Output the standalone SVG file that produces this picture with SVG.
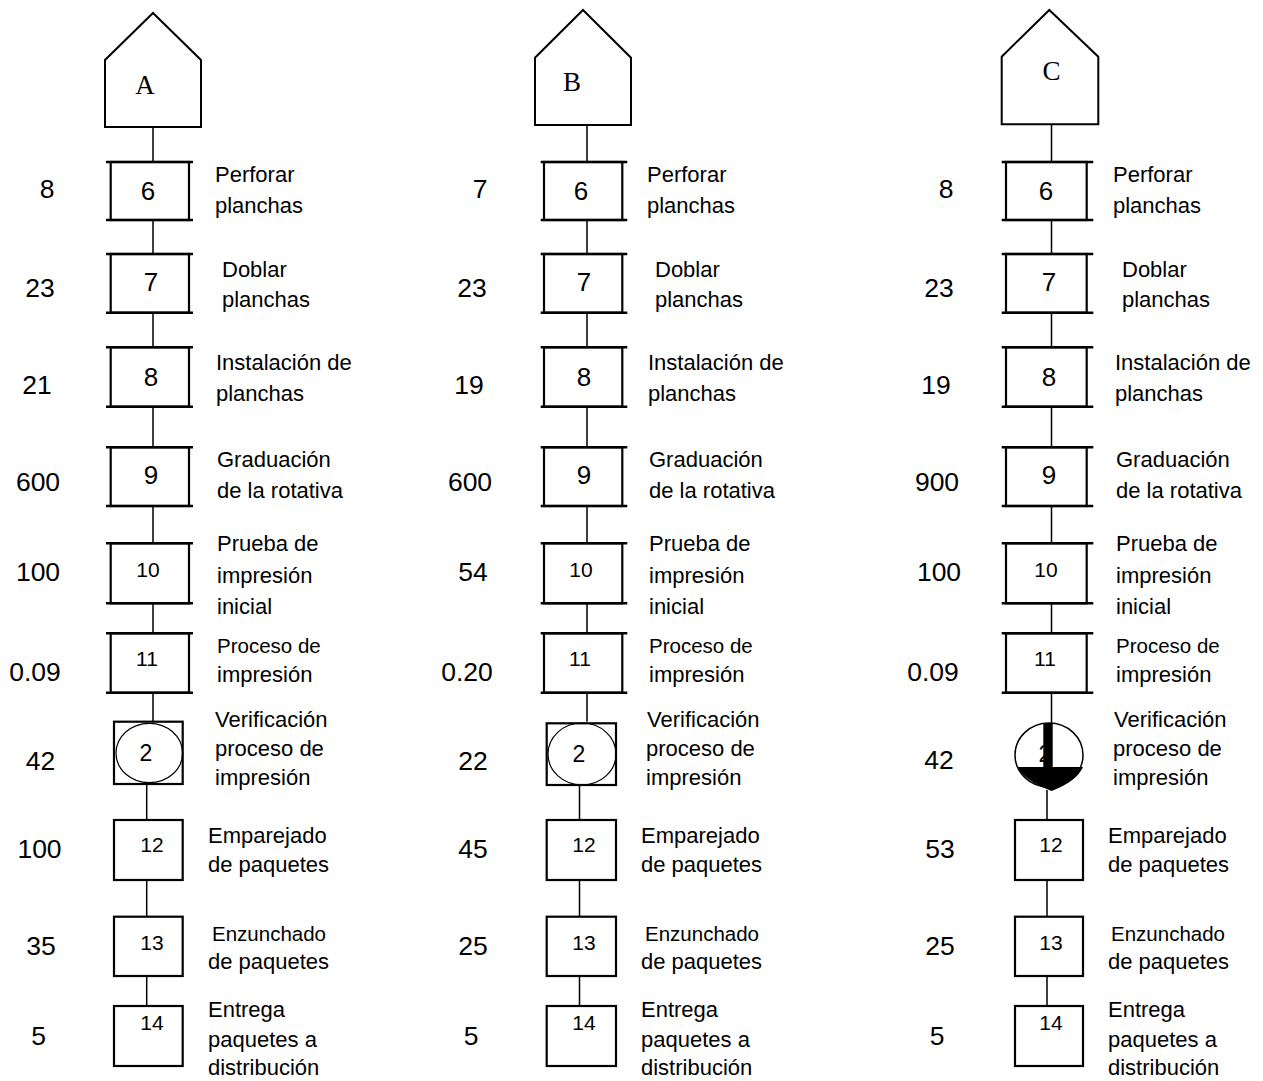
<svg xmlns="http://www.w3.org/2000/svg" width="1263" height="1081" viewBox="0 0 1263 1081">
<style>
.pent{fill:#fff;stroke:#000;stroke-width:2}
.box{fill:#fff;stroke:#000;stroke-width:2.2}
.bar{stroke:#000;stroke-width:2.6}
.conn{stroke:#000;stroke-width:1.5;fill:none}
.ell{fill:none;stroke:#000;stroke-width:1.2}
.letter{font-family:"Liberation Serif",serif;font-size:27px;text-anchor:middle}
.num{font-family:"Liberation Sans",Arial,sans-serif;font-size:26.5px;text-anchor:middle}
.bn{font-family:"Liberation Sans",Arial,sans-serif;font-size:26px;text-anchor:middle}
.bs{font-family:"Liberation Sans",Arial,sans-serif;font-size:21px;text-anchor:middle}
.lbl{font-family:"Liberation Sans",Arial,sans-serif;font-size:22px}
.lbs{font-family:"Liberation Sans",Arial,sans-serif;font-size:20.5px}
</style>
<rect width="1263" height="1081" fill="#fff"/>

<g id="connectors">
  <g transform="translate(0,0)">
    <path class="conn" d="M153,127V162M153,220V254M153,312.7V347.3M153,406.7V447.3M153,506V543.3M153,603.3V633.3M153,692.7V721.7M146.7,784V820M146.7,880V916.7M146.7,976V1006"/>
  </g>
  <g transform="translate(433,0)">
    <path class="conn" d="M154,125V162M154,220V254M154,312.7V347.3M154,406.7V447.3M154,506V543.3M154,603.3V633.3M154,692.7V721.7M146.5,784V820M146.5,880V916.7M146.5,976V1006"/>
  </g>
  <g transform="translate(897,0)">
    <path class="conn" d="M154.5,124.3V162M154.5,220V254M154.5,312.7V347.3M154.5,406.7V447.3M154.5,506V543.3M154.5,603.3V633.3M154.5,692.7V723M150,790V820M150,880V916.7M150,976V1006"/>
  </g>
</g>

<!-- Column A -->
<g id="colA">
  <g id="A-start"><polygon class="pent" points="153,13 201,60 201,127 105,127 105,60"/><text class="letter" x="145" y="94">A</text></g>
  <g id="A-6"><rect class="box" x="110.7" y="162" width="78.3" height="58"/><path class="bar" d="M106,162H193M106,220H193"/><text class="bn" x="148" y="200">6</text><text class="num" x="47" y="198">8</text><text class="lbl" x="215" y="182">Perforar</text><text class="lbl" x="215" y="213">planchas</text></g>
  <g id="A-7"><rect class="box" x="110.7" y="254" width="78.3" height="58.7"/><path class="bar" d="M106,254H193M106,312.7H193"/><text class="bn" x="151" y="291">7</text><text class="num" x="40" y="297">23</text><text class="lbl" x="222" y="277">Doblar</text><text class="lbl" x="222" y="307">planchas</text></g>
  <g id="A-8"><rect class="box" x="110.7" y="347.3" width="78.3" height="59.4"/><path class="bar" d="M106,347.3H193M106,406.7H193"/><text class="bn" x="151" y="386">8</text><text class="num" x="37" y="394">21</text><text class="lbl" x="216" y="370">Instalación de</text><text class="lbl" x="216" y="401">planchas</text></g>
  <g id="A-9"><rect class="box" x="110.7" y="447.3" width="78.3" height="58.7"/><path class="bar" d="M106,447.3H193M106,506H193"/><text class="bn" x="151" y="484">9</text><text class="num" x="38" y="491">600</text><text class="lbl" x="217" y="467">Graduación</text><text class="lbl" x="217" y="498">de la rotativa</text></g>
  <g id="A-10"><rect class="box" x="110.7" y="543.3" width="78.3" height="60"/><path class="bar" d="M106,543.3H193M106,603.3H193"/><text class="bs" x="148" y="577">10</text><text class="num" x="38" y="581">100</text><text class="lbl" x="217" y="551">Prueba de</text><text class="lbl" x="217" y="583">impresión</text><text class="lbl" x="217" y="614">inicial</text></g>
  <g id="A-11"><rect class="box" x="110.7" y="633.3" width="78.3" height="59.4"/><path class="bar" d="M106,633.3H193M106,692.7H193"/><text class="bs" x="147" y="666">11</text><text class="num" x="35" y="681">0.09</text><text class="lbs" x="217" y="653">Proceso de</text><text class="lbl" x="217" y="682">impresión</text></g>
  <g id="A-2"><rect class="box" x="114" y="721.7" width="68.7" height="62.3"/><ellipse class="ell" cx="149.3" cy="753" rx="33.3" ry="29.7"/><text class="bs" x="146" y="761" style="font-size:23px">2</text><text class="num" x="40.5" y="770">42</text><text class="lbl" x="215" y="727">Verificación</text><text class="lbl" x="215" y="756">proceso de</text><text class="lbl" x="215" y="785">impresión</text></g>
  <g id="A-12"><rect class="box" x="114" y="820" width="68.7" height="60"/><text class="bs" x="152" y="852">12</text><text class="num" x="39.5" y="858">100</text><text class="lbl" x="208" y="843">Emparejado</text><text class="lbl" x="208" y="872">de paquetes</text></g>
  <g id="A-13"><rect class="box" x="114" y="916.7" width="68.7" height="59.3"/><text class="bs" x="152" y="950">13</text><text class="num" x="41" y="955">35</text><text class="lbs" x="212" y="941">Enzunchado</text><text class="lbl" x="208" y="969">de paquetes</text></g>
  <g id="A-14"><rect class="box" x="114" y="1006" width="68.7" height="60"/><text class="bs" x="152" y="1030">14</text><text class="num" x="38.5" y="1045">5</text><text class="lbl" x="208" y="1017">Entrega</text><text class="lbl" x="208" y="1047">paquetes a</text><text class="lbl" x="208" y="1075">distribución</text></g>
</g>

<!-- Column B -->
<g id="colB" transform="translate(433,0)">
  <g id="B-start"><polygon class="pent" points="150,10 198,57.7 198,125 102,125 102,57.7"/><text class="letter" x="139" y="90.7">B</text></g>
  <g id="B-6"><rect class="box" x="111" y="162" width="78.3" height="58"/><path class="bar" d="M107.7,162H194.3M107.7,220H194.3"/><text class="bn" x="148" y="200">6</text><text class="num" x="47" y="198">7</text><text class="lbl" x="214" y="182">Perforar</text><text class="lbl" x="214" y="213">planchas</text></g>
  <g id="B-7"><rect class="box" x="111" y="254" width="78.3" height="58.7"/><path class="bar" d="M107.7,254H194.3M107.7,312.7H194.3"/><text class="bn" x="151" y="291">7</text><text class="num" x="39" y="297">23</text><text class="lbl" x="222" y="277">Doblar</text><text class="lbl" x="222" y="307">planchas</text></g>
  <g id="B-8"><rect class="box" x="111" y="347.3" width="78.3" height="59.4"/><path class="bar" d="M107.7,347.3H194.3M107.7,406.7H194.3"/><text class="bn" x="151" y="386">8</text><text class="num" x="36" y="394">19</text><text class="lbl" x="215" y="370">Instalación de</text><text class="lbl" x="215" y="401">planchas</text></g>
  <g id="B-9"><rect class="box" x="111" y="447.3" width="78.3" height="58.7"/><path class="bar" d="M107.7,447.3H194.3M107.7,506H194.3"/><text class="bn" x="151" y="484">9</text><text class="num" x="37" y="491">600</text><text class="lbl" x="216" y="467">Graduación</text><text class="lbl" x="216" y="498">de la rotativa</text></g>
  <g id="B-10"><rect class="box" x="111" y="543.3" width="78.3" height="60"/><path class="bar" d="M107.7,543.3H194.3M107.7,603.3H194.3"/><text class="bs" x="148" y="577">10</text><text class="num" x="40" y="581">54</text><text class="lbl" x="216" y="551">Prueba de</text><text class="lbl" x="216" y="583">impresión</text><text class="lbl" x="216" y="614">inicial</text></g>
  <g id="B-11"><rect class="box" x="111" y="633.3" width="78.3" height="59.4"/><path class="bar" d="M107.7,633.3H194.3M107.7,692.7H194.3"/><text class="bs" x="147" y="666">11</text><text class="num" x="34" y="681">0.20</text><text class="lbs" x="216" y="653">Proceso de</text><text class="lbl" x="216" y="682">impresión</text></g>
  <g id="B-2"><rect class="box" x="113.7" y="723.3" width="69.3" height="61.7"/><ellipse class="ell" cx="149" cy="754" rx="34" ry="31"/><text class="bs" x="146" y="762" style="font-size:23px">2</text><text class="num" x="40" y="770">22</text><text class="lbl" x="214" y="727">Verificación</text><text class="lbl" x="213" y="756">proceso de</text><text class="lbl" x="213" y="785">impresión</text></g>
  <g id="B-12"><rect class="box" x="113.7" y="820" width="69.3" height="60"/><text class="bs" x="151" y="852">12</text><text class="num" x="40" y="858">45</text><text class="lbl" x="208" y="843">Emparejado</text><text class="lbl" x="208" y="872">de paquetes</text></g>
  <g id="B-13"><rect class="box" x="113.7" y="916.7" width="69.3" height="59.3"/><text class="bs" x="151" y="950">13</text><text class="num" x="40" y="955">25</text><text class="lbs" x="212" y="941">Enzunchado</text><text class="lbl" x="208" y="969">de paquetes</text></g>
  <g id="B-14"><rect class="box" x="113.7" y="1006" width="69.3" height="60"/><text class="bs" x="151" y="1030">14</text><text class="num" x="38" y="1045">5</text><text class="lbl" x="208" y="1017">Entrega</text><text class="lbl" x="208" y="1047">paquetes a</text><text class="lbl" x="208" y="1075">distribución</text></g>
</g>

<!-- Column C -->
<g id="colC" transform="translate(897,0)">
  <g id="C-start"><polygon class="pent" points="152.3,10 201.3,56.7 201.3,124.3 104.7,124.3 104.7,56.7"/><text class="letter" x="154.5" y="80">C</text></g>
  <g id="C-6"><rect class="box" x="109" y="162" width="80.7" height="58"/><path class="bar" d="M104.7,162H196.3M104.7,220H196.3"/><text class="bn" x="149" y="200">6</text><text class="num" x="49" y="198">8</text><text class="lbl" x="216" y="182">Perforar</text><text class="lbl" x="216" y="213">planchas</text></g>
  <g id="C-7"><rect class="box" x="109" y="254" width="80.7" height="58.7"/><path class="bar" d="M104.7,254H196.3M104.7,312.7H196.3"/><text class="bn" x="152" y="291">7</text><text class="num" x="42" y="297">23</text><text class="lbl" x="225" y="277">Doblar</text><text class="lbl" x="225" y="307">planchas</text></g>
  <g id="C-8"><rect class="box" x="109" y="347.3" width="80.7" height="59.4"/><path class="bar" d="M104.7,347.3H196.3M104.7,406.7H196.3"/><text class="bn" x="152" y="386">8</text><text class="num" x="39" y="394">19</text><text class="lbl" x="218" y="370">Instalación de</text><text class="lbl" x="218" y="401">planchas</text></g>
  <g id="C-9"><rect class="box" x="109" y="447.3" width="80.7" height="58.7"/><path class="bar" d="M104.7,447.3H196.3M104.7,506H196.3"/><text class="bn" x="152" y="484">9</text><text class="num" x="40" y="491">900</text><text class="lbl" x="219" y="467">Graduación</text><text class="lbl" x="219" y="498">de la rotativa</text></g>
  <g id="C-10"><rect class="box" x="109" y="543.3" width="80.7" height="60"/><path class="bar" d="M104.7,543.3H196.3M104.7,603.3H196.3"/><text class="bs" x="149" y="577">10</text><text class="num" x="42" y="581">100</text><text class="lbl" x="219" y="551">Prueba de</text><text class="lbl" x="219" y="583">impresión</text><text class="lbl" x="219" y="614">inicial</text></g>
  <g id="C-11"><rect class="box" x="109" y="633.3" width="80.7" height="59.4"/><path class="bar" d="M104.7,633.3H196.3M104.7,692.7H196.3"/><text class="bs" x="148" y="666">11</text><text class="num" x="36" y="681">0.09</text><text class="lbs" x="219" y="653">Proceso de</text><text class="lbl" x="219" y="682">impresión</text></g>
  <g id="C-2">
    <ellipse cx="152" cy="755" rx="34" ry="32" fill="#fff" stroke="#000" stroke-width="1.5"/>
    <text class="bs" x="148" y="762" style="font-size:23px">2</text>
    <rect x="146.3" y="723" width="9.4" height="45" fill="#000"/>
    <path d="M120,767H186Q180,781 154.7,791Q128,781 120,767Z" fill="#000"/>
    <text class="num" x="42" y="769">42</text><text class="lbl" x="217" y="727">Verificación</text><text class="lbl" x="216" y="756">proceso de</text><text class="lbl" x="216" y="785">impresión</text>
  </g>
  <g id="C-12"><rect class="box" x="118" y="820" width="68" height="60"/><text class="bs" x="154" y="852">12</text><text class="num" x="43" y="858">53</text><text class="lbl" x="211" y="843">Emparejado</text><text class="lbl" x="211" y="872">de paquetes</text></g>
  <g id="C-13"><rect class="box" x="118" y="916.7" width="68" height="59.3"/><text class="bs" x="154" y="950">13</text><text class="num" x="43" y="955">25</text><text class="lbs" x="214" y="941">Enzunchado</text><text class="lbl" x="211" y="969">de paquetes</text></g>
  <g id="C-14"><rect class="box" x="118" y="1006" width="68" height="60"/><text class="bs" x="154" y="1030">14</text><text class="num" x="40" y="1045">5</text><text class="lbl" x="211" y="1017">Entrega</text><text class="lbl" x="211" y="1047">paquetes a</text><text class="lbl" x="211" y="1075">distribución</text></g>
</g>
</svg>
